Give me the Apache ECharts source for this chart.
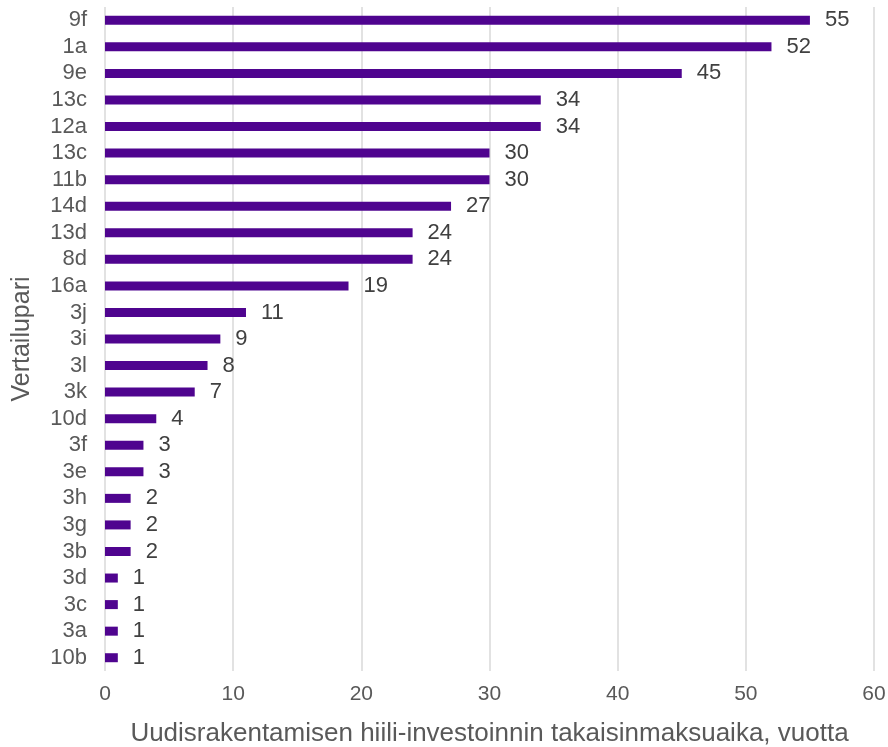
<!DOCTYPE html>
<html>
<head>
<meta charset="utf-8">
<script src="https://cdn.jsdelivr.net/npm/echarts@6/dist/echarts.min.js"></script>
<style>
  html, body { margin: 0; padding: 0; background: #ffffff; }
  #chart { width: 888px; height: 747px; }
</style>
</head>
<body>
<div id="chart"></div>
<script>
// Comparison pairs, top to bottom
var categories = ['9f', '1a', '9e', '13c', '12a', '13c', '11b', '14d', '13d', '8d', '16a',
  '3j', '3i', '3l', '3k', '10d', '3f', '3e', '3h', '3g', '3b', '3d', '3c', '3a', '10b'];
// Payback time of the embodied carbon investment, years
var paybackYears = [55, 52, 45, 34, 34, 30, 30, 27, 24, 24, 19, 11, 9, 8, 7, 4, 3, 3, 2, 2, 2, 1, 1, 1, 1];
var xTicks = { min: 0, max: 60, interval: 10 };

var textColor = '#595959';
var font = 'Liberation Sans, Arial, sans-serif';

var chart = echarts.init(document.getElementById('chart'));
chart.setOption({
  animation: false,
  grid: {
    left: 105, right: 14, top: 7, height: 664,
    containLabel: false,
    outerBoundsMode: 'none'
  },
  xAxis: {
    type: 'value',
    min: xTicks.min, max: xTicks.max, interval: xTicks.interval,
    name: 'Uudisrakentamisen hiili-investoinnin takaisinmaksuaika, vuotta',
    nameLocation: 'middle',
    nameGap: 50,
    nameTextStyle: { color: textColor, fontSize: 26, fontFamily: font },
    axisLine: { show: false },
    axisTick: { show: false },
    axisLabel: { color: textColor, fontSize: 21, fontFamily: font, margin: 13 },
    splitLine: { show: true, lineStyle: { color: '#d9d9d9', width: 1.5 } }
  },
  yAxis: {
    type: 'category',
    data: categories,
    inverse: true,
    name: 'Vertailupari',
    nameLocation: 'middle',
    nameGap: 70,
    nameRotate: 90,
    nameTextStyle: { color: textColor, fontSize: 25, fontFamily: font },
    axisLine: { show: false },
    axisTick: { show: false },
    axisLabel: {
      color: textColor, fontSize: 22, fontFamily: font, margin: 18,
      interval: 0, hideOverlap: false
    }
  },
  series: [{
    type: 'bar',
    data: paybackYears,
    barWidth: 9,
    itemStyle: { color: '#4f048f' },
    label: {
      show: true,
      position: 'right',
      distance: 15,
      color: '#404040',
      fontSize: 22,
      fontFamily: font
    }
  }]
});
</script>
</body>
</html>
